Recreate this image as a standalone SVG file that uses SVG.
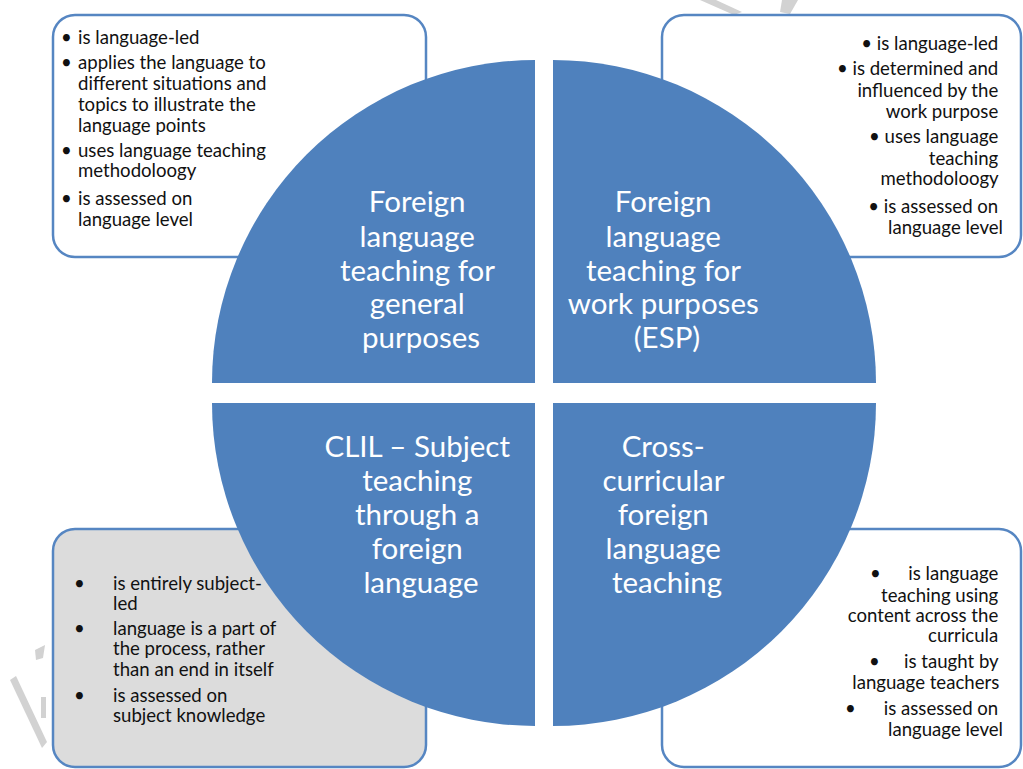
<svg xmlns="http://www.w3.org/2000/svg" width="1023" height="769" viewBox="0 0 1023 769">
  <style>
    .box { fill: #ffffff; stroke: #5686c2; stroke-width: 2.5; }
    .box.grey { fill: #dcdcdc; }
    .quad { fill: #4f81bd; }
    .title { font-family: Lato, "Liberation Sans", sans-serif; font-size: 29.5px; fill: #ffffff; text-anchor: middle; }
    .note { font-family: Lato, "Liberation Sans", sans-serif; font-size: 18.6px; fill: #111111; }
    .right { text-anchor: end; }
    .mark { fill: #d2d2d2; }
  </style>
  <rect width="1023" height="769" fill="#ffffff"/>

  <!-- faint background lettering -->
  <g id="watermark">
    <polygon class="mark" points="700,0 716,0 742,12 734,15"/>
    <polygon class="mark" points="782,0 798,0 790,14 780,12"/>
    <polygon class="mark" points="35,650 45,645 43,658 36,660"/>
    <polygon class="mark" points="10,680 16,676 47,742 42,748"/>
    <polygon class="mark" points="41,697 46,697 46,718 41,718"/>
  </g>

  <!-- corner note boxes (behind the circle) -->
  <g id="box-general">
    <rect class="box" x="53" y="15" width="373" height="242" rx="22"/>
    <text class="note">
      <tspan x="61" y="43.5">•</tspan><tspan x="78" y="43.5">is language-led</tspan>
      <tspan x="61" y="68.5">•</tspan><tspan x="78" y="68.5">applies the language to</tspan>
      <tspan x="78" y="89.5">different situations and</tspan>
      <tspan x="78" y="111">topics to illustrate the</tspan>
      <tspan x="78" y="132">language points</tspan>
      <tspan x="61" y="157">•</tspan><tspan x="78" y="157">uses language teaching</tspan>
      <tspan x="78" y="177">methodoloogy</tspan>
      <tspan x="61" y="205">•</tspan><tspan x="78" y="205">is assessed on</tspan>
      <tspan x="78" y="226">language level</tspan>
    </text>
  </g>

  <g id="box-work">
    <rect class="box" x="662" y="15" width="359" height="242" rx="22"/>
    <text class="note right">
      <tspan x="1003" y="50">• is language-led</tspan>
      <tspan x="1003" y="75">• is determined and</tspan>
      <tspan x="1003" y="96.5">influenced by the</tspan>
      <tspan x="1003" y="118">work purpose</tspan>
      <tspan x="1003" y="143">• uses language</tspan>
      <tspan x="1003" y="165">teaching</tspan>
      <tspan x="1003" y="185">methodoloogy</tspan>
      <tspan x="1003" y="213">• is assessed on</tspan>
      <tspan x="1003" y="233.5">language level</tspan>
    </text>
  </g>

  <g id="box-clil">
    <rect class="box grey" x="53" y="529" width="373" height="238" rx="22"/>
    <text class="note">
      <tspan x="74" y="590">•</tspan><tspan x="113" y="590">is entirely subject-</tspan>
      <tspan x="113" y="610">led</tspan>
      <tspan x="74" y="635">•</tspan><tspan x="113" y="635">language is a part of</tspan>
      <tspan x="113" y="655">the process, rather</tspan>
      <tspan x="113" y="675.5">than an end in itself</tspan>
      <tspan x="74" y="701.5">•</tspan><tspan x="113" y="701.5">is assessed on</tspan>
      <tspan x="113" y="722">subject knowledge</tspan>
    </text>
  </g>

  <g id="box-cross">
    <rect class="box" x="662" y="529" width="359" height="238" rx="22"/>
    <text class="note">
      <tspan x="870" y="580">•</tspan>
      <tspan x="869" y="668">•</tspan>
      <tspan x="845" y="715">•</tspan>
    </text>
    <text class="note right">
      <tspan x="1003" y="580">is language</tspan>
      <tspan x="1003" y="601.5">teaching using</tspan>
      <tspan x="1003" y="621.5">content across the</tspan>
      <tspan x="1003" y="642">curricula</tspan>
      <tspan x="1003" y="668">is taught by</tspan>
      <tspan x="1004" y="688.5">language teachers</tspan>
      <tspan x="1003" y="715">is assessed on</tspan>
      <tspan x="1003" y="735.5">language level</tspan>
    </text>
  </g>

  <!-- four quarter-circle segments -->
  <g id="quad-general">
    <path class="quad" d="M535,383 L212,383 A323,323 0 0 1 535,60 Z"/>
    <text class="title">
      <tspan x="421" y="212">Foreign</tspan>
      <tspan x="421" y="246.5">language</tspan>
      <tspan x="421" y="280.5">teaching for</tspan>
      <tspan x="421" y="314">general</tspan>
      <tspan x="421" y="347.5">purposes</tspan>
    </text>
  </g>

  <g id="quad-work">
    <path class="quad" d="M553,383 L553,60 A323,323 0 0 1 876,383 Z"/>
    <text class="title">
      <tspan x="667" y="212">Foreign</tspan>
      <tspan x="667" y="246.5">language</tspan>
      <tspan x="667" y="280.5">teaching for</tspan>
      <tspan x="667" y="314">work purposes</tspan>
      <tspan x="667" y="347.5">(ESP)</tspan>
    </text>
  </g>

  <g id="quad-clil">
    <path class="quad" d="M535,403 L535,726 A323,323 0 0 1 212,403 Z"/>
    <text class="title">
      <tspan x="421" y="456.5">CLIL – Subject</tspan>
      <tspan x="421" y="491">teaching</tspan>
      <tspan x="421" y="525">through a</tspan>
      <tspan x="421" y="559">foreign</tspan>
      <tspan x="421" y="592.5">language</tspan>
    </text>
  </g>

  <g id="quad-cross">
    <path class="quad" d="M553,403 L876,403 A323,323 0 0 1 553,726 Z"/>
    <text class="title">
      <tspan x="667" y="456.5">Cross-</tspan>
      <tspan x="667" y="491">curricular</tspan>
      <tspan x="667" y="525">foreign</tspan>
      <tspan x="667" y="559">language</tspan>
      <tspan x="667" y="592.5">teaching</tspan>
    </text>
  </g>

  <g id="connectors"/>
</svg>
